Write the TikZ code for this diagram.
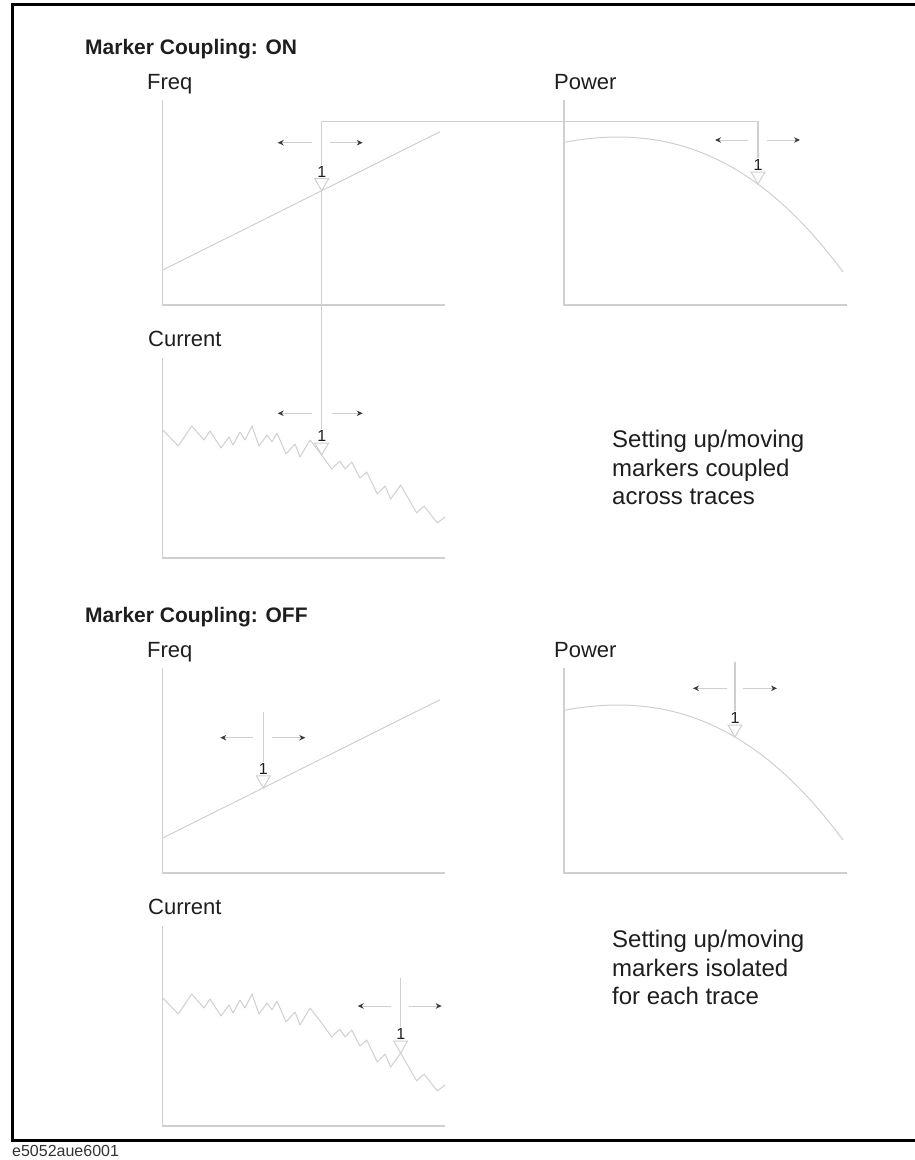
\documentclass[tikz,border=0pt]{standalone}
\usepackage{fontspec}
\setmainfont{Liberation Sans}
\usetikzlibrary{arrows.meta,positioning,shapes.geometric}
\definecolor{linegray}{HTML}{CFCFCF}
\definecolor{tipgray}{HTML}{3A3A3A}
\definecolor{inkgray}{HTML}{1E1E1E}
\tikzset{
  axisln/.style={draw=linegray, line width=1.1pt},
  trace/.style={draw=linegray, line width=1pt, line join=round},
  mkline/.style={draw=linegray, line width=1.1pt},
  mkarr/.style={-{Stealth[length=6pt,width=5.5pt,color=tipgray]}, draw=linegray, line width=1pt},
  mktri/.style={regular polygon, regular polygon sides=3, shape border rotate=180, minimum size=16pt, inner sep=0pt, outer sep=0pt, draw=linegray, line width=1pt},
  mknum/.style={font=\fontsize{16}{16}\selectfont, text=inkgray, inner sep=0pt, outer sep=1.5pt},
  ttl/.style={font=\fontsize{21}{25}\selectfont\bfseries, text=inkgray, inner sep=0pt, anchor=base west},
  lbl/.style={font=\fontsize{22}{26}\selectfont, text=inkgray, inner sep=0pt, anchor=base west},
  note/.style={font=\fontsize{24}{28.5}\selectfont, text=inkgray, inner sep=0pt, align=left, anchor=north west},
}
% noisy "Current" trace, drawn twice
\newcommand{\curtrace}{%
  \draw[trace] (162.7,430) -- (178.3,446) -- (191.7,426) -- (204,440) -- (210,431) -- (221,448)
    -- (229,437) -- (233,445) -- (240,432) -- (245,440) -- (252,426) -- (259,446) -- (267,435)
    -- (272,442) -- (277,433) -- (286,454) -- (295,444) -- (300,457) -- (310,440) -- (321.7,455)
    -- (331.7,469) -- (340,461) -- (345,469) -- (351.7,462) -- (360,478) -- (366.7,472) -- (377.3,494)
    -- (385,486) -- (390.7,499) -- (400.7,485) -- (416.7,513) -- (424,506) -- (437.3,523) -- (445,517);}

\begin{document}
\begin{tikzpicture}[x=1pt, y=-1pt]
  \useasboundingbox (0,0) rectangle (915,1160);
  \draw[line width=3pt] (12.5,4.5) rectangle (922,1140);

  % headings and trace names
  \node[ttl] (ttlon) at (85,54) {Marker Coupling: ON};
  \node[ttl] (ttloff) at (85,622) {Marker Coupling: OFF};
  \node[lbl] (freqon) at (147,89) {Freq};
  \node[lbl] (powon) at (554,89) {Power};
  \node[lbl] (curon) at (148,346) {Current};
  \node[lbl] (freqoff) at (147,657) {Freq};
  \node[lbl] (powoff) at (554,657) {Power};
  \node[lbl] (curoff) at (148,914) {Current};

  % axes
  \draw[axisln] (162.7,100) -- (162.7,305) -- (445,305);
  \draw[axisln] (564,100) -- (564,305) -- (847,305);
  \draw[axisln] (162.7,358) -- (162.7,558) -- (445,558);
  \draw[axisln] (162.7,668) -- (162.7,873) -- (445,873);
  \draw[axisln] (564,668) -- (564,873) -- (847,873);
  \draw[axisln] (162.7,926) -- (162.7,1126) -- (445,1126);

  % traces
  \draw[trace] (162.7,270) -- (440,131.7);
  \draw[trace] (162.7,838) -- (440,699.7);
  \draw[trace] plot[domain=564:843, samples=60] (\x, {137+((\x-618)/100)*((\x-618)/100)*(19.81+3.047*(\x-618)/100)});
  \draw[trace] plot[domain=564:843, samples=60] (\x, {705+((\x-618)/100)*((\x-618)/100)*(19.81+3.047*(\x-618)/100)});
  \curtrace
  \begin{scope}[yshift=-568pt]
    \curtrace
  \end{scope}

  % coupled markers
  \node[mktri, anchor=corner 1] (tfon) at (321.7,190.7) {};
  \node[mknum, above=0pt of tfon] (nfon) {1};
  \node[mktri, anchor=corner 1] (tpon) at (758,184) {};
  \node[mknum, above=0pt of tpon] (npon) {1};
  \node[mktri, anchor=corner 1] (tcon) at (321.7,455) {};
  \node[mknum, above=0pt of tcon] (ncon) {1};
  \coordinate (cpl) at (321.7,121.7);
  \coordinate (cpr) at (758,121.7);
  \draw[mkline] (nfon) -- (cpl) -- (cpr) -- (npon);
  \draw[mkline] (tfon.corner 1) -- (ncon);
  \coordinate (afon) at (321.7,142.7);
  \draw[mkarr] ([xshift=-10pt]afon) -- ([xshift=-44pt]afon);
  \draw[mkarr] ([xshift=8pt]afon) -- ([xshift=41pt]afon);
  \coordinate (apon) at (758,140);
  \draw[mkarr] ([xshift=-10pt]apon) -- ([xshift=-43pt]apon);
  \draw[mkarr] ([xshift=9pt]apon) -- ([xshift=42pt]apon);
  \coordinate (acon) at (321.7,413.3);
  \draw[mkarr] ([xshift=-10pt]acon) -- ([xshift=-44pt]acon);
  \draw[mkarr] ([xshift=10pt]acon) -- ([xshift=41pt]acon);

  % isolated markers
  \node[mktri, anchor=corner 1] (tfoff) at (263.3,787.8) {};
  \node[mknum, above=0pt of tfoff] (nfoff) {1};
  \coordinate (topfoff) at (263.3,711.7);
  \draw[mkline] (topfoff) -- (nfoff);
  \coordinate (afoff) at (263.3,737.7);
  \draw[mkarr] ([xshift=-10pt]afoff) -- ([xshift=-43pt]afoff);
  \draw[mkarr] ([xshift=9pt]afoff) -- ([xshift=42pt]afoff);
  \node[mktri, anchor=corner 1] (tpoff) at (735,737) {};
  \node[mknum, above=0pt of tpoff] (npoff) {1};
  \coordinate (toppoff) at (735,661.7);
  \draw[mkline] (toppoff) -- (npoff);
  \coordinate (apoff) at (735,688.3);
  \draw[mkarr] ([xshift=-8pt]apoff) -- ([xshift=-42pt]apoff);
  \draw[mkarr] ([xshift=8pt]apoff) -- ([xshift=42pt]apoff);
  \node[mktri, anchor=corner 1] (tcoff) at (400.7,1053) {};
  \node[mknum, above=0pt of tcoff] (ncoff) {1};
  \coordinate (topcoff) at (400.7,978);
  \draw[mkline] (topcoff) -- (ncoff);
  \coordinate (acoff) at (400.7,1006);
  \draw[mkarr] ([xshift=-10pt]acoff) -- ([xshift=-43pt]acoff);
  \draw[mkarr] ([xshift=8pt]acoff) -- ([xshift=41pt]acoff);

  % explanations
  \node[note] (noteon) at (612,430) {Setting up/moving\\markers coupled\\across traces};
  \node[note] (noteoff) at (612,930) {Setting up/moving\\markers isolated\\for each trace};
  \node[font=\fontsize{16}{16}\selectfont, text=black!80, inner sep=0pt, anchor=base west] (figid) at (12,1156) {e5052aue6001};
\end{tikzpicture}
\end{document}
